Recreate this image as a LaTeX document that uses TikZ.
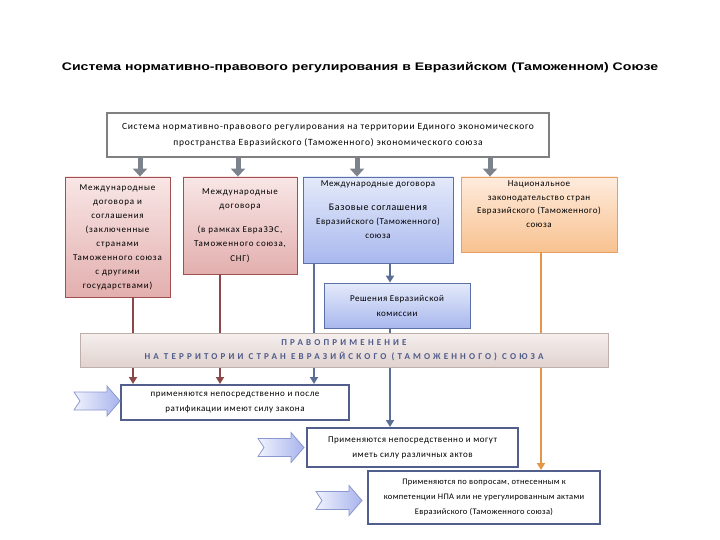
\documentclass[tikz,border=0pt]{standalone}
\usepackage{fontspec}
\setmainfont{Carlito}[LetterSpace=6]
\newfontfamily\titlefont{Liberation Sans}
\newfontfamily\bandfont[LetterSpace=35]{Carlito}
\usetikzlibrary{arrows.meta,calc}
\definecolor{graydraw}{RGB}{128,128,128}
\definecolor{grayarrow}{RGB}{125,131,140}
\definecolor{pinkdraw}{RGB}{160,80,80}
\definecolor{pinktop}{RGB}{249,230,230}
\definecolor{pinkbot}{RGB}{226,175,174}
\definecolor{bluedraw}{RGB}{92,112,168}
\definecolor{bluetop}{RGB}{228,234,250}
\definecolor{bluebot}{RGB}{169,184,238}
\definecolor{orgdraw}{RGB}{227,160,96}
\definecolor{orgtop}{RGB}{254,235,221}
\definecolor{orgbot}{RGB}{248,194,144}
\definecolor{bandtop}{RGB}{245,239,238}
\definecolor{bandbot}{RGB}{224,210,207}
\definecolor{banddraw}{RGB}{191,175,170}
\definecolor{bandtext}{RGB}{79,91,138}
\definecolor{redline}{RGB}{140,72,72}
\definecolor{blueline}{RGB}{92,110,150}
\definecolor{orgline}{RGB}{226,150,70}
\definecolor{outdraw}{RGB}{82,94,140}
\definecolor{arrL}{RGB}{240,242,253}
\definecolor{arrR}{RGB}{168,180,236}
\definecolor{arrdraw}{RGB}{139,152,207}
\tikzset{
  txt/.style={align=center, inner sep=0pt},
  topbox/.style={draw=graydraw, line width=2pt, fill=white, align=center,
     font=\addfontfeature{LetterSpace=8}\fontsize{9.5}{16}\selectfont},
  pinkbox/.style={draw=pinkdraw, line width=0.8pt, top color=pinktop, bottom color=pinkbot, align=center, inner sep=0pt},
  bluebox/.style={draw=bluedraw, line width=0.8pt, top color=bluetop, bottom color=bluebot, align=center, inner sep=0pt},
  orgbox/.style={draw=orgdraw, line width=0.8pt, top color=orgtop, bottom color=orgbot, align=center, inner sep=0pt},
  bandbox/.style={draw=banddraw, line width=0.8pt, top color=bandtop, bottom color=bandbot, align=center, inner sep=0pt,
     text=bandtext, font=\bandfont\bfseries\fontsize{9}{14}\selectfont},
  outbox/.style={draw=outdraw, line width=2pt, fill=white, align=center, inner sep=0pt, font=\fontsize{9}{15}\selectfont},
  toparrow/.style={draw=grayarrow, line width=5pt, -{Triangle[width=14pt,length=8pt]}},
  conn/.style={line width=2pt, -{Triangle[width=8pt,length=7pt]}},
  blockarrow/.style={draw=arrdraw, line width=0.8pt, left color=arrL, right color=arrR, line join=miter},
}
\begin{document}
\begin{tikzpicture}[x=1pt,y=-1pt]
\useasboundingbox (0,0) rectangle (720,540);
\fill[white] (0,0) rectangle (720,540);

\node[font=\titlefont\bfseries\fontsize{11}{12}\selectfont, inner sep=0pt] (title) at (360,68)
  {\scalebox{1.28}[1]{Система нормативно-правового регулирования в Евразийском (Таможенном) Союзе}};

\node[topbox, minimum width=442, minimum height=44] (top) at (328,135)
  {Система нормативно-правового регулирования на территории Единого экономического\\
   пространства Евразийского (Таможенного) экономического союза};

\node[pinkbox, minimum width=105, minimum height=120, font=\addfontfeature{LetterSpace=9}\fontsize{9}{14}\selectfont] (b1) at (117.5,237)
  {Международные\\договора и\\соглашения\\(заключенные\\странами\\Таможенного союза\\с другими\\государствами)};
\node[pinkbox, minimum width=114, minimum height=97, font=\addfontfeature{LetterSpace=9}\fontsize{9}{14.5}\selectfont] (b2) at (240,225.5)
  {Международные\\договора\\[9pt](в рамках ЕвраЗЭС,\\Таможенного союза,\\СНГ)};
\node[bluebox, minimum width=150, minimum height=86] (b3) at (378,220) {};
\node[txt, anchor=north, font=\fontsize{9}{14}\selectfont] (b3t) at ([yshift=-4]b3.north)
  {Международные договора\\[10pt]{\fontsize{10}{14}\selectfont Базовые соглашения}\\Евразийского (Таможенного)\\союза};
\node[orgbox, minimum width=156, minimum height=75] (b4) at (539,214.5) {};
\node[txt, anchor=north, font=\fontsize{9}{13.5}\selectfont] (b4t) at ([yshift=-4]b4.north)
  {Национальное\\законодательство стран\\Евразийского (Таможенного)\\союза};
\node[bluebox, minimum width=146, minimum height=45, font=\fontsize{9}{15}\selectfont] (b5) at (397,305.5)
  {Решения Евразийской\\комиссии};

\node[outbox, minimum width=228, minimum height=35] (bA) at (235,402.5)
  {применяются непосредственно и после\\ратификации имеют силу закона};
\node[outbox, minimum width=211, minimum height=39] (bB) at (412.5,447.5)
  {Применяются непосредственно и могут\\иметь силу различных актов};
\node[outbox, minimum width=232, minimum height=53, font=\addfontfeature{LetterSpace=4}\fontsize{8.5}{15}\selectfont] (bC) at (484,497.5)
  {Применяются по вопросам, отнесенным к\\компетенции НПА или не урегулированным актами\\Евразийского (Таможенного союза)};

% top arrows
\coordinate (a1) at ([xshift=22.5]b1.north);
\coordinate (a2) at ([xshift=-2]b2.north);
\coordinate (a3) at ([xshift=-21]b3.north);
\coordinate (a4) at ([xshift=-49]b4.north);
\foreach \a in {a1,a2,a3,a4} \draw[toparrow] (top.south -| \a) -- (\a);

% connectors
\coordinate (c1) at ([xshift=15.5]b1.south);
\coordinate (c2) at ([xshift=-20]b2.south);
\coordinate (c3) at ([xshift=-64]b3.south);
\coordinate (c4) at ([xshift=12]b3.south);
\coordinate (c5) at ([xshift=-7]b5.south);
\coordinate (c6) at ([xshift=2]b4.south);
\draw[conn, redline] (c1) -- (c1 |- bA.north);
\draw[conn, redline] (c2) -- (c2 |- bA.north);
\draw[conn, blueline] (c3) -- (c3 |- bA.north);
\draw[conn, blueline] (c4) -- (c4 |- b5.north);
\draw[conn, blueline] (c5) -- (c5 |- bB.north);
\draw[conn, orgline] (c6) -- (c6 |- bC.north);

% band over the connectors
\node[bandbox, minimum width=528, minimum height=34] (band) at (344,350)
  {ПРАВОПРИМЕНЕНИЕ\\НА ТЕРРИТОРИИ СТРАН ЕВРАЗИЙСКОГО (ТАМОЖЕННОГО) СОЮЗА};

% block arrows
\draw[blockarrow] ([yshift=1.5]bA.west) -- ++(-13,-15) -- ++(0,6) -- ++(-33,0) -- ++(6,9) -- ++(-6,9) -- ++(33,0) -- ++(0,6) -- cycle;
\draw[blockarrow] ([xshift=-2]bB.west) -- ++(-13,-15) -- ++(0,6) -- ++(-33,0) -- ++(6,9) -- ++(-6,9) -- ++(33,0) -- ++(0,6) -- cycle;
\draw[blockarrow] ([xshift=-5,yshift=-3]bC.west) -- ++(-13,-15) -- ++(0,6) -- ++(-33,0) -- ++(6,9) -- ++(-6,9) -- ++(33,0) -- ++(0,6) -- cycle;
\end{tikzpicture}
\end{document}
